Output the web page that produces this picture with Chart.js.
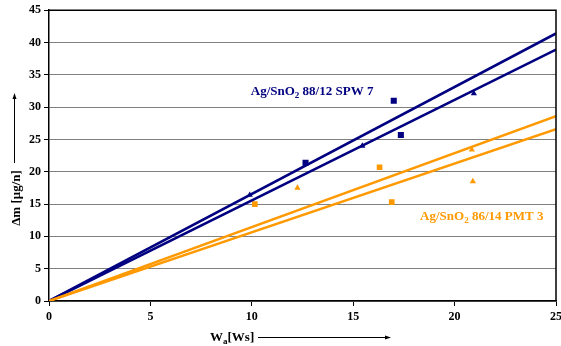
<!DOCTYPE html>
<html>
<head>
<meta charset="utf-8">
<script src="https://cdn.jsdelivr.net/npm/chart.js@4.4.0/dist/chart.umd.min.js"></script>
<style>
  html, body { margin: 0; padding: 0; background: #fff; overflow: hidden; }
  #wrap { width: 561px; height: 346px; position: relative; overflow: hidden; }
</style>
</head>
<body>
<div id="wrap"><canvas id="myChart" width="566" height="346"></canvas></div>
<script>
var blueSquares = [{x: 12.65, y: 21.4}, {x: 17.0, y: 31.0}, {x: 17.35, y: 25.7}];
var blueTriangles = [{x: 9.9, y: 16.4}, {x: 15.45, y: 24.0}, {x: 20.95, y: 32.1}];
var orangeSquares = [{x: 10.15, y: 15.0}, {x: 16.3, y: 20.7}, {x: 16.9, y: 15.3}];
var orangeTriangles = [{x: 12.25, y: 17.5}, {x: 20.85, y: 23.4}, {x: 20.9, y: 18.5}];

// fit lines through the origin
var blueFitUpper = [{x: 0, y: 0}, {x: 25, y: 41.4}];
var blueFitLower = [{x: 0, y: 0}, {x: 25, y: 38.9}];
var orangeFitUpper = [{x: 0, y: 0}, {x: 25, y: 28.6}];
var orangeFitLower = [{x: 0, y: 0}, {x: 25, y: 26.6}];

var xTicks = [0, 5, 10, 15, 20, 25];
var yTicks = [0, 5, 10, 15, 20, 25, 30, 35, 40, 45];

var blueLabel = ['Ag/SnO', '2', ' 88/12 SPW 7'];
var orangeLabel = ['Ag/SnO', '2', ' 86/14 PMT 3'];

var NAVY = '#000080';
var ORANGE = '#FF9900';
var FONT = '"Liberation Serif", "Times New Roman", serif';

function drawSubLabel(ctx, parts, x, y, color) {
	ctx.fillStyle = color;
	ctx.textBaseline = 'middle';
	ctx.textAlign = 'left';
	ctx.font = 'bold 13px ' + FONT;
	ctx.fillText(parts[0], x, y);
	x += ctx.measureText(parts[0]).width;
	ctx.font = 'bold 9px ' + FONT;
	ctx.fillText(parts[1], x, y + 4);
	x += ctx.measureText(parts[1]).width;
	ctx.font = 'bold 13px ' + FONT;
	ctx.fillText(parts[2], x, y);
}

var decor = {
	id: 'decor',
	afterDraw: function(chart) {
		var ctx = chart.ctx;
		var a = chart.chartArea;
		var xs = chart.scales.x;
		var ys = chart.scales.y;
		ctx.save();
		// frame top / right
		ctx.strokeStyle = '#000';
		ctx.lineWidth = 1.5;
		ctx.beginPath();
		ctx.moveTo(a.left, a.top);
		ctx.lineTo(a.right, a.top);
		ctx.lineTo(a.right, a.bottom);
		ctx.stroke();

		// series labels
		drawSubLabel(ctx, blueLabel, xs.getPixelForValue(9.95), ys.getPixelForValue(32.4), NAVY);
		drawSubLabel(ctx, orangeLabel, xs.getPixelForValue(18.3), ys.getPixelForValue(13.0), ORANGE);

		// x axis title with arrow
		ctx.fillStyle = '#000';
		ctx.textBaseline = 'alphabetic';
		ctx.textAlign = 'left';
		var tx = 210, ty = 341;
		ctx.font = 'bold 13px ' + FONT;
		ctx.fillText('W', tx, ty);
		tx += ctx.measureText('W').width;
		ctx.font = 'bold 9px ' + FONT;
		ctx.fillText('a', tx, ty + 3);
		tx += ctx.measureText('a').width;
		ctx.font = 'bold 13px ' + FONT;
		ctx.fillText('[Ws]', tx, ty);
		ctx.strokeStyle = '#000';
		ctx.lineWidth = 1;
		ctx.beginPath();
		ctx.moveTo(258, 337.5);
		ctx.lineTo(388, 337.5);
		ctx.stroke();
		ctx.beginPath();
		ctx.moveTo(391, 337.5);
		ctx.lineTo(385, 335.5);
		ctx.lineTo(385, 339.5);
		ctx.closePath();
		ctx.fill();

		// y axis title with arrow
		ctx.save();
		ctx.translate(17, 198);
		ctx.rotate(-Math.PI / 2);
		ctx.font = 'bold 13px ' + FONT;
		ctx.textAlign = 'center';
		ctx.textBaseline = 'middle';
		ctx.fillText('\u0394m [\u03bcg/n]', 0, 0);
		ctx.restore();
		ctx.beginPath();
		ctx.moveTo(14.5, 163);
		ctx.lineTo(14.5, 97);
		ctx.stroke();
		ctx.beginPath();
		ctx.moveTo(14.5, 93);
		ctx.lineTo(12.5, 99);
		ctx.lineTo(16.5, 99);
		ctx.closePath();
		ctx.fill();
		ctx.restore();
	}
};

function fitSet(data, color) {
	return {
		data: data,
		showLine: true,
		borderColor: color,
		borderWidth: 2.5,
		pointRadius: 0,
		pointHoverRadius: 0,
		fill: false
	};
}

function markSet(data, color, style, r) {
	return {
		data: data,
		showLine: false,
		pointStyle: style,
		pointRadius: r,
		pointBackgroundColor: color,
		pointBorderColor: color,
		pointBorderWidth: 0
	};
}

var ctx = document.getElementById('myChart');
window.myChart = new Chart(ctx, {
	type: 'scatter',
	data: {
		datasets: [
			fitSet(orangeFitUpper, ORANGE),
			fitSet(orangeFitLower, ORANGE),
			fitSet(blueFitUpper, NAVY),
			fitSet(blueFitLower, NAVY),
			markSet(blueSquares, NAVY, 'rect', 4.3),
			markSet(blueTriangles, NAVY, 'triangle', 3.6),
			markSet(orangeSquares, ORANGE, 'rect', 4.0),
			markSet(orangeTriangles, ORANGE, 'triangle', 3.6)
		]
	},
	options: {
		responsive: false,
		animation: false,
		devicePixelRatio: 1,
		layout: { padding: { top: 10, right: 0, left: 0, bottom: 0 } },
		plugins: {
			legend: { display: false },
			tooltip: { enabled: false }
		},
		scales: {
			x: {
				type: 'linear',
				min: 0,
				max: 25,
				afterBuildTicks: function(s) { s.ticks = xTicks.map(function(v) { return {value: v}; }); },
				afterFit: function(s) { s.height = 45; },
				grid: { display: true, drawOnChartArea: false, tickLength: 5, tickColor: '#000' },
				border: { color: '#000', width: 1.5 },
				ticks: {
					color: '#000',
					padding: 4,
					maxRotation: 0,
					font: { family: FONT, weight: 'bold', size: 12 }
				}
			},
			y: {
				min: 0,
				max: 45,
				afterBuildTicks: function(s) { s.ticks = yTicks.map(function(v) { return {value: v}; }); },
				afterFit: function(s) { s.width = 49; },
				grid: { color: '#808080', lineWidth: 1, tickLength: 5, tickColor: '#000' },
				border: { color: '#000', width: 1.5 },
				ticks: {
					color: '#000',
					padding: 3,
					font: { family: FONT, weight: 'bold', size: 12 }
				}
			}
		}
	},
	plugins: [decor]
});
</script>
</body>
</html>
